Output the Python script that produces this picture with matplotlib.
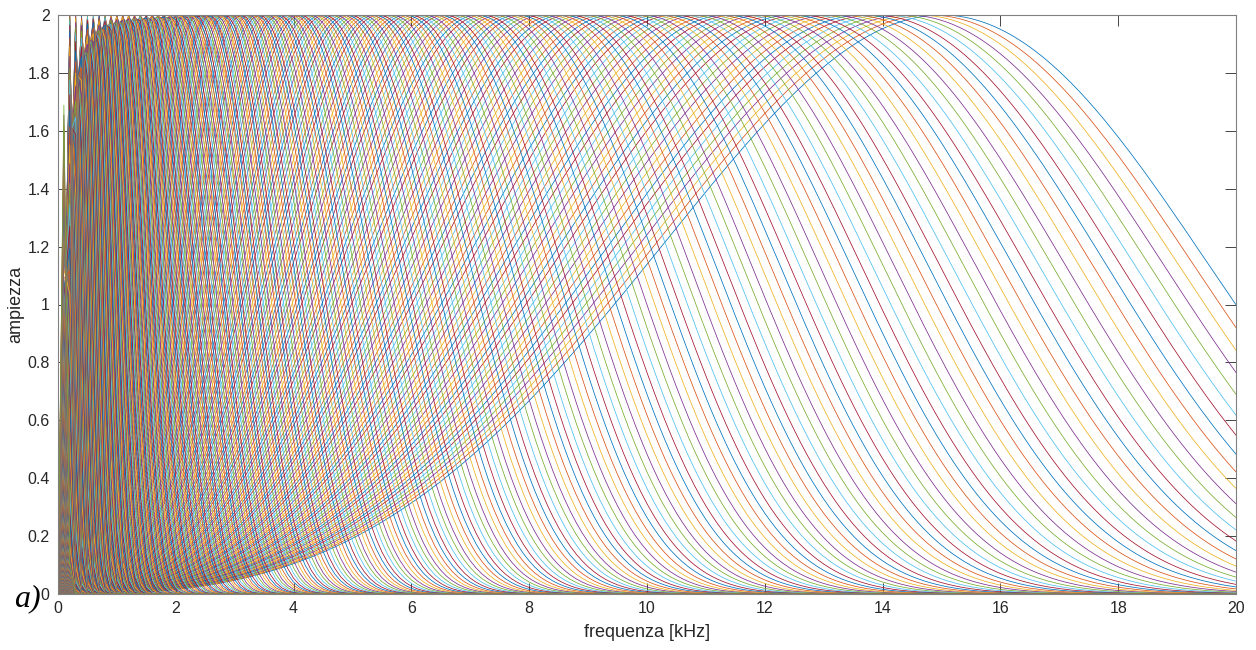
import numpy as np
import matplotlib
matplotlib.use('Agg')
import matplotlib.pyplot as plt

# Banco di filtri: frequenze centrali in scala logaritmica
picco_max_khz = 15.0        # filtro più alto (curva blu a destra)
voci_per_ottava = 52        # passo tra frequenze centrali adiacenti
n_filtri = 362              # numero di curve
passo_freq_khz = 0.1        # risoluzione in frequenza
gamma_forma = 4.0           # forma della risposta (lato alto)
beta_forma = 2.75           # forma della risposta (lato basso)
guadagno = 2.0              # ampiezza di picco

x_ticks = [0, 2, 4, 6, 8, 10, 12, 14, 16, 18, 20]
y_ticks = [0, 0.2, 0.4, 0.6, 0.8, 1, 1.2, 1.4, 1.6, 1.8, 2]
y_tick_labels = ['0', '0.2', '0.4', '0.6', '0.8', '1', '1.2', '1.4', '1.6', '1.8', '2']

colori = ['#0072BD', '#D95319', '#EDB120', '#7E2F8E', '#77AC30', '#4DBEEE', '#A2142F']

frequenze = np.arange(0, 20 + passo_freq_khz / 2, passo_freq_khz)
centri = picco_max_khz * 2.0 ** (-np.arange(n_filtri) / voci_per_ottava)


def risposta(f, fc):
    r = f / fc
    g = np.zeros_like(r)
    m = r > 0
    g[m] = np.exp(beta_forma * (np.log(r[m]) + (1 - r[m] ** gamma_forma) / gamma_forma))
    return guadagno * g


plt.rcParams['font.family'] = ['Liberation Sans', 'DejaVu Sans']
fig = plt.figure(figsize=(12.56, 6.5), dpi=100)
ax = fig.add_axes([58 / 1256, 1 - 594 / 650, 1178 / 1256, 579 / 650])

for i, fc in enumerate(centri):
    ax.plot(frequenze, risposta(frequenze, fc), color=colori[i % len(colori)], lw=0.55)

ax.set_xlim(0, 20)
ax.set_ylim(0, 2)
ax.set_xticks(x_ticks)
ax.set_xticklabels([str(t) for t in x_ticks])
ax.set_yticks(y_ticks)
ax.set_yticklabels(y_tick_labels)
ax.tick_params(direction='in', length=8, width=0.6, colors='#262626', labelsize=11.5,
               top=True, right=True, pad=5)
ax.tick_params(axis='y', pad=6)
for s in ax.spines.values():
    s.set_color('#808080')
    s.set_linewidth(0.8)

ax.set_xlabel('frequenza [kHz]', fontsize=13, color='#262626', labelpad=6)
ax.set_ylabel('ampiezza', fontsize=13, color='#262626', labelpad=2)

fig.text(0.011, 0.068, 'a)', fontsize=23, style='italic', family='Liberation Serif', color='black')

fig.savefig('out.png', dpi=100)
